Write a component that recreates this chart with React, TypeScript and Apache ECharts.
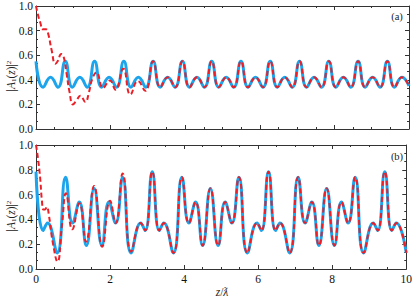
import React, { useEffect, useRef } from "react";
import * as echarts from "echarts";

// Panel (a): steady-state oscillation (blue) and transient (red dashed)
const blueA: [number, number][] = [
  [0, 0.55], [0.19, 0.34], [0.39, 0.42], [0.59, 0.34],
  [0.785, 0.55], [0.975, 0.34], [1.175, 0.42], [1.375, 0.34],
  [1.57, 0.55], [1.76, 0.34], [1.96, 0.42], [2.16, 0.34],
  [2.355, 0.55], [2.545, 0.34], [2.745, 0.42], [2.945, 0.34],
  [3.14, 0.55], [3.33, 0.34], [3.53, 0.42], [3.73, 0.34],
  [3.925, 0.55], [4.115, 0.34], [4.315, 0.42], [4.515, 0.34],
  [4.71, 0.55], [4.9, 0.34], [5.1, 0.42], [5.3, 0.34],
  [5.495, 0.55], [5.685, 0.34], [5.885, 0.42], [6.085, 0.34],
  [6.28, 0.55], [6.47, 0.34], [6.67, 0.42], [6.87, 0.34],
  [7.065, 0.55], [7.255, 0.34], [7.455, 0.42], [7.655, 0.34],
  [7.85, 0.55], [8.04, 0.34], [8.24, 0.42], [8.44, 0.34],
  [8.635, 0.55], [8.825, 0.34], [9.025, 0.42], [9.225, 0.34],
  [9.42, 0.55], [9.61, 0.34], [9.81, 0.42], [10, 0.35],
];

const redAStart: [number, number][] = [
  [0, 1.0], [0.06, 0.92], [0.12, 0.86], [0.18, 0.81], [0.27, 0.81],
  [0.33, 0.77], [0.42, 0.64], [0.52, 0.53], [0.58, 0.55], [0.68, 0.61],
  [0.74, 0.59], [0.82, 0.45], [0.9, 0.3], [0.99, 0.2], [1.08, 0.23],
  [1.19, 0.27], [1.32, 0.22], [1.42, 0.3], [1.5, 0.4], [1.62, 0.46],
  [1.8, 0.335], [1.98, 0.395], [2.13, 0.32], [2.34, 0.49], [2.53, 0.28],
  [2.73, 0.39], [2.93, 0.31],
];

// Panel (b)
const blueB: [number, number][] = [
  [0, 0.785], [0.19, 0.31], [0.31, 0.37], [0.57, 0.13], [0.8, 0.74],
  [0.99, 0.37], [1.17, 0.54], [1.36, 0.19], [1.57, 0.65], [1.78, 0.19],
  [1.97, 0.54], [2.15, 0.37], [2.34, 0.74], [2.57, 0.13], [2.83, 0.37],
  [2.95, 0.31],
  [3.14, 0.785], [3.33, 0.31], [3.45, 0.37], [3.71, 0.13], [3.94, 0.74],
  [4.13, 0.37], [4.31, 0.54], [4.5, 0.19], [4.71, 0.65], [4.92, 0.19],
  [5.11, 0.54], [5.29, 0.37], [5.48, 0.74], [5.71, 0.13], [5.97, 0.37],
  [6.09, 0.31],
  [6.28, 0.785], [6.47, 0.31], [6.59, 0.37], [6.85, 0.13], [7.08, 0.74],
  [7.27, 0.37], [7.45, 0.54], [7.64, 0.19], [7.85, 0.65], [8.06, 0.19],
  [8.25, 0.54], [8.43, 0.37], [8.62, 0.74], [8.85, 0.13], [9.11, 0.37],
  [9.23, 0.31],
  [9.42, 0.785], [9.61, 0.31], [9.73, 0.37], [10, 0.13],
];

const redBStart: [number, number][] = [
  [0, 1.0], [0.05, 0.9], [0.11, 0.74], [0.16, 0.55], [0.2, 0.48],
  [0.24, 0.48], [0.29, 0.5], [0.35, 0.43], [0.45, 0.22], [0.58, 0.06],
  [0.7, 0.35], [0.81, 0.61], [0.98, 0.32], [1.17, 0.53], [1.35, 0.22],
  [1.57, 0.67], [1.79, 0.18], [2.0, 0.55], [2.15, 0.37], [2.34, 0.77],
  [2.57, 0.14],
];

const redA = [...redAStart, ...blueA.filter((p) => p[0] >= 3.14)];
const redB = [...redBStart, ...blueB.filter((p) => p[0] >= 2.8)];

const panelLabels = ["(a)", "(b)"];
const FONT = "Liberation Serif";
const BLUE = "#1ca4ec";
const RED = "#ec1f27";
const FRAME = "#333";

const GRID_LEFT = 36;
const GRID_W = 373;
const GRID_H = 124;
const GRID_TOPS = [5, 145];

function xAx(grid: number, pos: "top" | "bottom", labels: boolean) {
  return {
    type: "value",
    gridIndex: grid,
    position: pos,
    min: 0,
    max: 10,
    interval: 2,
    axisLine: { show: true, onZero: false, lineStyle: { color: FRAME, width: 1 } },
    axisTick: { show: true, inside: true, length: 4, lineStyle: { color: FRAME } },
    minorTick: { show: true, splitNumber: 4, length: 2, lineStyle: { color: FRAME } },
    splitLine: { show: false },
    axisLabel: {
      show: labels,
      color: "#111",
      fontFamily: FONT,
      fontSize: 11.5,
      margin: 4,
    },
  };
}

function yAx(grid: number, pos: "left" | "right", labels: boolean) {
  return {
    type: "value",
    gridIndex: grid,
    position: pos,
    min: 0,
    max: 1,
    interval: 0.2,
    axisLine: { show: true, onZero: false, lineStyle: { color: FRAME, width: 1 } },
    axisTick: { show: true, inside: true, length: 4, lineStyle: { color: FRAME } },
    minorTick: { show: true, splitNumber: 3, length: 2, lineStyle: { color: FRAME } },
    splitLine: { show: false },
    axisLabel: {
      show: labels,
      color: "#111",
      fontFamily: FONT,
      fontSize: 11.5,
      margin: 3,
      formatter: (v: number) => v.toFixed(1),
    },
  };
}

function yName(y: number) {
  return {
    type: "text",
    x: 11,
    y,
    rotation: Math.PI / 2,
    style: {
      text: "|{i|A}{s|1}({i|z})|{p|2}",
      fill: "#222",
      fontFamily: FONT,
      fontSize: 11.5,
      align: "center",
      verticalAlign: "middle",
      rich: {
        i: { fontStyle: "italic", fontSize: 11.5, fontFamily: FONT, fill: "#222" },
        s: { fontSize: 7, fontFamily: FONT, verticalAlign: "bottom", fill: "#222" },
        p: { fontSize: 7, fontFamily: FONT, verticalAlign: "top", fill: "#222" },
      },
    },
  };
}

export default function App() {
  const ref = useRef<HTMLDivElement>(null);
  useEffect(() => {
    if (!ref.current) return;
    const chart = echarts.init(ref.current, undefined, { renderer: "svg" });
    const lineS = (data: [number, number][], g: number, red: boolean) => ({
      type: "line",
      xAxisIndex: g * 2,
      yAxisIndex: g * 2,
      data,
      smooth: 0.5,
      showSymbol: false,
      symbol: "none",
      z: red ? 3 : 2,
      lineStyle: red
        ? { color: RED, width: 2, type: [5, 3] }
        : { color: BLUE, width: 3 },
    });
    chart.setOption({
      animation: false,
      backgroundColor: "#fff",
      grid: GRID_TOPS.map((t) => ({
        left: GRID_LEFT,
        top: t,
        width: GRID_W,
        height: GRID_H,
        containLabel: false,
      })),
      xAxis: [
        xAx(0, "bottom", false),
        xAx(0, "top", false),
        xAx(1, "bottom", true),
        xAx(1, "top", false),
      ],
      yAxis: [
        yAx(0, "left", true),
        yAx(0, "right", false),
        yAx(1, "left", true),
        yAx(1, "right", false),
      ],
      series: [
        lineS(blueA, 0, false),
        lineS(redA, 0, true),
        lineS(blueB, 1, false),
        lineS(redB, 1, true),
      ],
      graphic: [
        yName(76),
        yName(216),
        {
          type: "text",
          x: 397,
          y: 16,
          style: { text: panelLabels[0], fontFamily: FONT, fontSize: 10.5, fill: "#222", align: "center", verticalAlign: "middle" },
        },
        {
          type: "text",
          x: 397,
          y: 156,
          style: { text: panelLabels[1], fontFamily: FONT, fontSize: 10.5, fill: "#222", align: "center", verticalAlign: "middle" },
        },
        {
          type: "text",
          x: 222,
          y: 292,
          style: {
            text: "{i|z}/{i|ƛ}",
            fontFamily: FONT,
            fontSize: 11.5,
            fill: "#222",
            align: "center",
            verticalAlign: "middle",
            rich: {
              i: { fontStyle: "italic", fontSize: 11.5, fontFamily: FONT, fill: "#222" },
            },
          },
        },
      ],
    });
    return () => chart.dispose();
  }, []);
  return (
    <div
      ref={ref}
      style={{ position: "fixed", left: 0, top: 0, width: 415, height: 301 }}
    />
  );
}
